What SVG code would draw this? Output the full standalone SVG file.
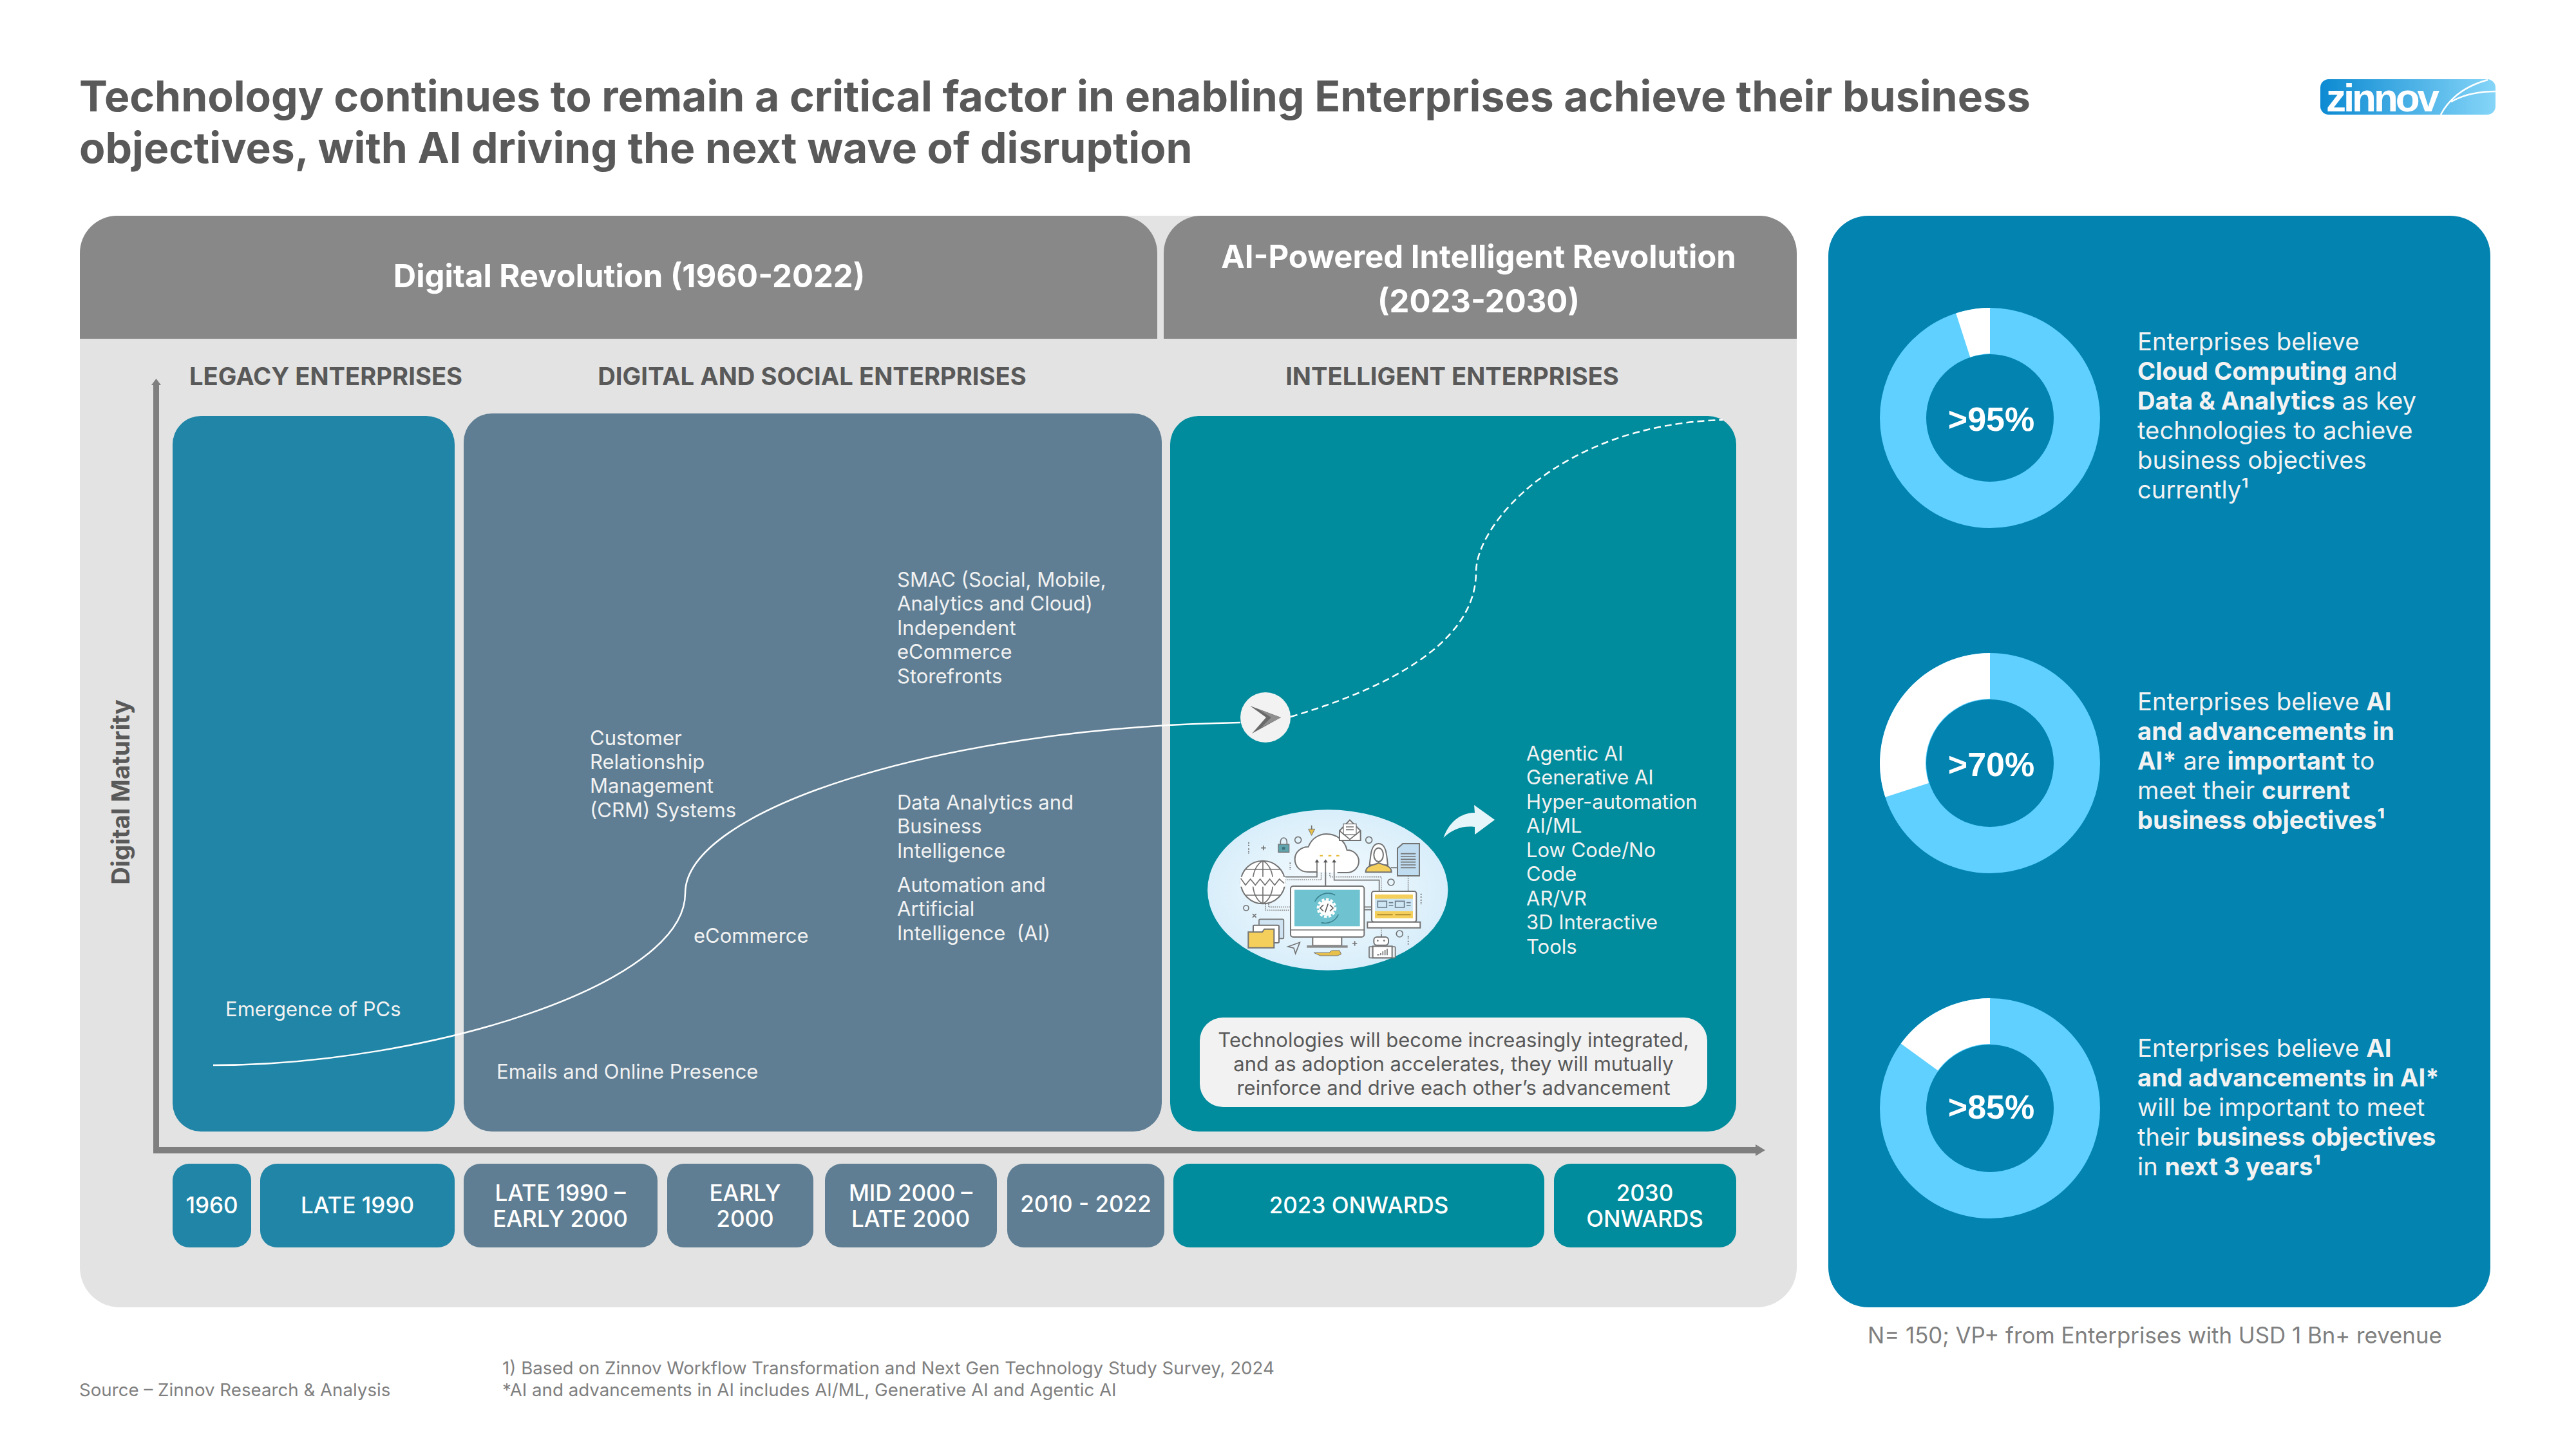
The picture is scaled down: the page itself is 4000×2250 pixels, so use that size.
<svg xmlns="http://www.w3.org/2000/svg" width="4000" height="2250" viewBox="0 0 4000 2250">
<defs>
<style>
text{font-family:Inter,"Noto Sans","Liberation Sans",sans-serif}
.title{font-size:66px;font-weight:700;fill:#595959}
.hd{font-size:49px;font-weight:700;fill:#fff;text-anchor:middle}
.sub{font-size:38.2px;font-weight:700;fill:#595959;text-anchor:middle}
.lb{font-size:31px;fill:#f2f2f2}
.dt{font-size:35px;font-weight:500;fill:#fff;text-anchor:middle}
.call{font-size:31px;fill:#595959;text-anchor:middle}
.rt{font-size:38.2px;fill:#f2f2f2}
.rt tspan.b{font-weight:700}
.pct{font-size:52px;font-weight:700;fill:#fff;text-anchor:middle;font-family:"Liberation Sans",Arial,sans-serif}
.ft{font-size:27.7px;fill:#7f7f7f}
.leg{fill:#2085a6}.dig{fill:#5f7e93}.int{fill:#008c9c}
.ic{fill:#fff;stroke:#737373;stroke-width:6}
.icl{fill:none;stroke:#737373;stroke-width:5}
.icd{fill:none;stroke:#8a8a8a;stroke-width:5;stroke-dasharray:5 4}
.yl{fill:#f5cf5b;stroke:#737373;stroke-width:6}
</style>
<linearGradient id="lg" x1="0" y1="0" x2="1" y2="0"><stop offset="0" stop-color="#0c8ad2"/><stop offset="1" stop-color="#85d5f8"/></linearGradient>
<radialGradient id="eg"><stop offset="0" stop-color="#f8fcff"/><stop offset="1" stop-color="#d8eefa"/></radialGradient>
</defs>
<rect width="4000" height="2250" fill="#fff"/>
<g id="title"><text class="title" x="123" y="173">Technology continues to remain a critical factor in enabling Enterprises achieve their business</text>
<text class="title" x="123" y="253">objectives, with AI driving the next wave of disruption</text></g>
<g id="logo"><rect x="3603" y="123" width="272" height="55" rx="13" fill="url(#lg)"/>
<text x="3612" y="173" font-size="62" font-weight="700" fill="#fff" style="font-family:'Liberation Sans',sans-serif" textLength="176">zinnov</text>
<path d="M3790 178C3805 150 3830 133 3863 124M3806 158C3825 147 3850 142 3875 142" fill="none" stroke="#fff" stroke-width="2.5"/></g>
<g id="panel-main"><rect x="124" y="335" width="2666" height="1695" rx="62" fill="#e3e3e3"/>
<path d="M124 526V393a58 58 0 0 1 58-58H1739a58 58 0 0 1 58 58V526Z" fill="#888"/>
<path d="M1807 526V393a58 58 0 0 1 58-58H2732a58 58 0 0 1 58 58V526Z" fill="#888"/>
<text class="hd" x="977" y="446">Digital Revolution (1960-2022)</text>
<text class="hd" x="2296" y="416">AI-Powered Intelligent Revolution</text>
<text class="hd" x="2296" y="485">(2023-2030)</text>
<text class="sub" x="506" y="598">LEGACY ENTERPRISES</text>
<text class="sub" x="1261" y="598">DIGITAL AND SOCIAL ENTERPRISES</text>
<text class="sub" x="2255" y="598">INTELLIGENT ENTERPRISES</text>
<text class="sub" transform="translate(201 1230) rotate(-90)">Digital Maturity</text></g>
<g id="stage-legacy"><rect class="leg" x="268" y="646" width="438" height="1111" rx="44"/></g>
<g id="stage-digital"><rect class="dig" x="720" y="642" width="1084" height="1115" rx="44"/></g>
<g id="stage-intelligent"><rect class="int" x="1817" y="646" width="879" height="1111" rx="44"/></g>
<g id="axes" fill="#7f7f7f"><rect x="238" y="596" width="9" height="1195"/><path d="M235 598L242.500 588L250 598Z"/><rect x="238" y="1781" width="2490" height="10"/><path d="M2726 1777L2741 1786L2726 1795Z"/></g>
<g id="labels">
<text class="lb" x="350" y="1578">Emergence of PCs</text>
<text class="lb" x="771" y="1675">Emails and Online Presence</text>
<text class="lb"><tspan x="916" y="1157">Customer</tspan><tspan x="916" y="1194">Relationship</tspan><tspan x="916" y="1231">Management</tspan><tspan x="916" y="1269">(CRM) Systems</tspan></text>
<text class="lb" x="1077" y="1464">eCommerce</text>
<text class="lb"><tspan x="1393" y="911">SMAC (Social, Mobile,</tspan><tspan x="1393" y="948">Analytics and Cloud)</tspan><tspan x="1393" y="986">Independent</tspan><tspan x="1393" y="1023">eCommerce</tspan><tspan x="1393" y="1061">Storefronts</tspan></text>
<text class="lb"><tspan x="1393" y="1257">Data Analytics and</tspan><tspan x="1393" y="1294">Business</tspan><tspan x="1393" y="1332">Intelligence</tspan></text>
<text class="lb" xml:space="preserve"><tspan x="1393" y="1385">Automation and</tspan><tspan x="1393" y="1422">Artificial</tspan><tspan x="1393" y="1460">Intelligence  (AI)</tspan></text>
<text class="lb"><tspan x="2370" y="1181">Agentic AI</tspan><tspan x="2370" y="1218">Generative AI</tspan><tspan x="2370" y="1256">Hyper-automation</tspan><tspan x="2370" y="1293">AI/ML</tspan><tspan x="2370" y="1331">Low Code/No</tspan><tspan x="2370" y="1368">Code</tspan><tspan x="2370" y="1406">AR/VR</tspan><tspan x="2370" y="1443">3D Interactive</tspan><tspan x="2370" y="1481">Tools</tspan></text>
</g>
<g id="connectors" fill="none" stroke="#fff"><path d="M331 1654C660 1654 1064 1530 1064 1387C1064 1260 1450 1130 1926 1122" stroke-width="2.5"/><path d="M2004 1113C2150 1070 2292 1000 2292 888C2292 815 2420 660 2675 652" stroke-width="2.5" stroke-dasharray="11 6"/></g>
<g id="marker"><circle cx="1965" cy="1114" r="39" fill="#f2f2f2"/><path d="M1941 1096L1989 1114L1944 1139L1966 1114Z" fill="#6a6a6a"/><path d="M1955 1102L1989 1114L1958 1130L1974 1114Z" fill="#8f8f8f"/></g>
<g id="illustration">
<ellipse cx="2061.700" cy="1382" rx="186.700" ry="124.700" fill="url(#eg)"/>
<g transform="translate(1860 1240) scale(0.3333)">
<path class="icl" d="M405 365H555V295M635 295V380H845V432M595 408V290M775 505H810M775 518H810M900 322H930"/>
<path class="icd" d="M405 378H575V275M615 275V365H855V432M980 360V432M855 602V630M315 490V520H432M330 490V505H432"/>
<path d="M555 342H515C475 342 452 315 452 282C452 250 480 225 515 225C530 185 565 165 600 165C645 165 685 195 695 240C725 240 750 262 750 292C750 322 725 345 695 345H650" class="ic"/>
<path class="icl" d="M555 345V295M595 405V292M635 345V292"/>
<path d="M545 298L555 283L565 298ZM585 298L595 283L605 298ZM625 298L635 283L645 298Z" fill="#555"/>
<path d="M568 266H582M608 266H622M645 266H659" stroke="#e8b62f" stroke-width="6" fill="none"/>
<ellipse cx="303" cy="390" rx="103" ry="100" class="ic"/>
<path class="icl" d="M303 290V490M303 290C240 320 240 460 303 490M303 290C366 320 366 460 303 490M222 330H384M222 450H384"/>
<path d="M198 365H408V410H198Z" fill="#fff"/>
<path class="icl" d="M200 372L222 403L245 375L268 403L290 375L313 403L335 375L358 403L380 375L402 395"/>
<rect x="432" y="408" width="343" height="237" rx="12" class="ic"/>
<rect x="450" y="425" width="305" height="170" fill="#6fc3d0"/>
<path class="icl" d="M432 612H775"/>
<rect x="535" y="645" width="135" height="40" class="ic"/><rect x="508" y="684" width="190" height="11" fill="#8a8a8a"/>
<circle cx="600" cy="510" r="36" fill="#fff"/><circle cx="600" cy="510" r="41" fill="none" stroke="#fff" stroke-width="10" stroke-dasharray="13 8"/>
<path d="M585 495L570 510L585 525M615 495L630 510L615 525M607 490L593 530" fill="none" stroke="#5b5b5b" stroke-width="5"/>
<path d="M545 480A68 68 0 0 1 640 450M655 540A68 68 0 0 1 575 578" fill="none" stroke="#3f8392" stroke-width="5"/>
<rect x="810" y="432" width="208" height="143" rx="10" class="ic"/>
<rect x="825" y="447" width="177" height="111" fill="#cfe7f5"/><rect x="825" y="447" width="177" height="20" fill="#f5cf5b"/><rect x="825" y="525" width="177" height="33" fill="#f5cf5b"/>
<path d="M838 478H880V507H838ZM920 478H962V507H920ZM890 485H910M890 498H910M972 485H992M972 498H992" fill="none" stroke="#6b7b88" stroke-width="5"/>
<path d="M835 541H908M920 541H992" stroke="#b0902f" stroke-width="6"/>
<path d="M790 575H1036V602H790Z" class="ic"/>
<path d="M930 232L955 210H1032V360H930Z" fill="#bfdcf0" stroke="#737373" stroke-width="6"/>
<path class="icl" d="M945 257H1015M945 270H1015M945 283H1015M945 296H1015M945 309H1015M945 322H1015"/>
<path d="M800 310C805 270 805 210 842 210C880 210 880 270 885 310Z" class="ic"/>
<path d="M782 343C782 312 815 312 842 300C870 312 902 312 902 343Z" class="yl"/>
<ellipse cx="842" cy="262" rx="22" ry="32" class="ic"/>
<path d="M385 213V201A15 18 0 0 1 415 201V213" class="icl"/><rect x="375" y="213" width="50" height="37" fill="#5fa3ad" stroke="#737373" stroke-width="4"/><rect x="393" y="226" width="13" height="12" fill="#3d6f78"/>
<path d="M660 150L708 100L758 150V195H660Z" class="ic"/><rect x="678" y="118" width="60" height="50" fill="#fff" stroke="#737373" stroke-width="4"/><path class="icl" d="M690 132H726M690 145H726M660 150L708 190L758 150"/>
<path d="M515 142L530 172L545 142Z" fill="#e6c04a" stroke="#737373" stroke-width="3"/><path d="M530 125V145" class="icl"/>
<rect x="285" y="562" width="115" height="90" rx="5" fill="#cfe3f2" stroke="#737373" stroke-width="5"/>
<rect x="258" y="590" width="120" height="82" rx="5" class="ic"/>
<path d="M235 622H300L310 608H355V695H235Z" class="yl"/>
<path d="M420 690L475 670L455 722L447 697Z" class="icl"/>
<path d="M540 718H610L625 708H660L668 725L650 732H570Z" fill="#e6c04a" stroke="#737373" stroke-width="3"/>
<rect x="798" y="690" width="122" height="52" rx="4" fill="#e8eef2" stroke="#737373" stroke-width="5"/>
<rect x="815" y="688" width="90" height="54" class="ic"/>
<rect x="820" y="645" width="68" height="38" rx="14" class="ic"/>
<path class="icl" d="M855 630V645M835 728H845M852 720V730M862 712V730M872 705V730M882 700V730"/>
<circle cx="838" cy="662" r="4" fill="#737373"/><circle cx="868" cy="662" r="4" fill="#737373"/>
<g class="icl"><circle cx="467" cy="193" r="15"/><circle cx="797" cy="193" r="15"/><circle cx="900" cy="390" r="15"/><circle cx="225" cy="510" r="12"/><circle cx="940" cy="630" r="15"/>
<path d="M295 230H317M306 219V241M720 675H742M731 664V686M255 537L272 554M272 537L255 554"/>
<path d="M237 203V225M237 232V258M430 298V312M430 318V332M1040 443V463M1040 470V495M980 640V655M980 662V680" stroke-dasharray="7 5"/></g>
</g>
<path d="M2241.500 1301C2250 1275 2270 1262 2290 1262L2289 1250L2321 1273L2290 1296L2290 1284C2270 1282 2255 1288 2241.500 1301Z" fill="#e6f5fa"/>
</g>
<g id="callout"><rect x="1863" y="1580" width="788" height="139" rx="36" fill="#f2f2f2"/>
<text class="call"><tspan x="2257" y="1626">Technologies will become increasingly integrated,</tspan><tspan x="2257" y="1663">and as adoption accelerates, they will mutually</tspan><tspan x="2257" y="1700">reinforce and drive each other’s advancement</tspan></text></g>
<g id="date-1960"><rect class="leg" x="268" y="1807" width="122" height="130" rx="26"/><text class="dt" x="329" y="1884">1960</text></g>
<g id="date-late1990"><rect class="leg" x="404" y="1807" width="302" height="130" rx="26"/><text class="dt" x="555" y="1884">LATE 1990</text></g>
<g id="date-late1990-early2000"><rect class="dig" x="720" y="1807" width="301" height="130" rx="26"/><text class="dt" x="870" y="1865">LATE 1990 –</text><text class="dt" x="870" y="1905">EARLY 2000</text></g>
<g id="date-early2000"><rect class="dig" x="1036" y="1807" width="227" height="130" rx="26"/><text class="dt" x="1157" y="1865">EARLY</text><text class="dt" x="1157" y="1905">2000</text></g>
<g id="date-mid2000"><rect class="dig" x="1281" y="1807" width="267" height="130" rx="26"/><text class="dt" x="1414" y="1865">MID 2000 –</text><text class="dt" x="1414" y="1905">LATE 2000</text></g>
<g id="date-2010"><rect class="dig" x="1564" y="1807" width="244" height="130" rx="26"/><text class="dt" x="1686" y="1882">2010 - 2022</text></g>
<g id="date-2023"><rect class="int" x="1822" y="1807" width="576" height="130" rx="26"/><text class="dt" x="2110" y="1884">2023 ONWARDS</text></g>
<g id="date-2030"><rect class="int" x="2413" y="1807" width="283" height="130" rx="26"/><text class="dt" x="2554" y="1865">2030</text><text class="dt" x="2554" y="1905">ONWARDS</text></g>
<g id="panel-right"><rect x="2839" y="335" width="1028" height="1695" rx="62" fill="#0283b0"/></g>
<g id="donut-95"><circle cx="3090" cy="649" r="135" fill="none" stroke="#5fd0ff" stroke-width="72"/>
<path d="M3090 478A171 171 0 0 0 3037.200 486.400L3059.300 554.700A100 100 0 0 1 3090 549Z" fill="#fff"/><text class="pct" x="3092" y="669">&gt;95%</text>
<text class="rt"><tspan x="3319" y="544">Enterprises believe</tspan><tspan x="3319" y="590"><tspan class="b">Cloud Computing</tspan> and</tspan><tspan x="3319" y="636"><tspan class="b">Data &amp; Analytics</tspan> as key</tspan><tspan x="3319" y="682">technologies to achieve</tspan><tspan x="3319" y="728">business objectives</tspan><tspan x="3319" y="774">currently¹</tspan></text></g>
<g id="donut-70"><circle cx="3090" cy="1185" r="135" fill="none" stroke="#5fd0ff" stroke-width="72"/>
<path d="M3090 1014A171 171 0 0 0 2927.400 1237.800L2994.900 1215.900A100 100 0 0 1 3090 1085Z" fill="#fff"/><text class="pct" x="3092" y="1205">&gt;70%</text>
<text class="rt"><tspan x="3319" y="1103">Enterprises believe <tspan class="b">AI</tspan></tspan><tspan x="3319" y="1149" class="b">and advancements in</tspan><tspan x="3319" y="1195"><tspan class="b">AI*</tspan> are <tspan class="b">important</tspan> to</tspan><tspan x="3319" y="1241">meet their <tspan class="b">current</tspan></tspan><tspan x="3319" y="1287" class="b">business objectives¹</tspan></text></g>
<g id="donut-85"><circle cx="3090" cy="1721" r="135" fill="none" stroke="#5fd0ff" stroke-width="72"/>
<path d="M3090 1550A171 171 0 0 0 2951.700 1620.500L3009.100 1662.200A100 100 0 0 1 3090 1621Z" fill="#fff"/><text class="pct" x="3092" y="1737">&gt;85%</text>
<text class="rt"><tspan x="3319" y="1641">Enterprises believe <tspan class="b">AI</tspan></tspan><tspan x="3319" y="1687" class="b">and advancements in AI*</tspan><tspan x="3319" y="1733">will be important to meet</tspan><tspan x="3319" y="1779">their <tspan class="b">business objectives</tspan></tspan><tspan x="3319" y="1825">in <tspan class="b">next 3 years¹</tspan></tspan></text></g>
<g id="notes"><text x="2900" y="2086" font-size="34.800" fill="#7f7f7f">N= 150; VP+ from Enterprises with USD 1 Bn+ revenue</text>
<text class="ft" x="123" y="2168">Source – Zinnov Research &amp; Analysis</text>
<text class="ft" x="780" y="2134">1) Based on Zinnov Workflow Transformation and Next Gen Technology Study Survey, 2024</text>
<text class="ft" x="780" y="2168">*AI and advancements in AI includes AI/ML, Generative AI and Agentic AI</text></g>
</svg>
